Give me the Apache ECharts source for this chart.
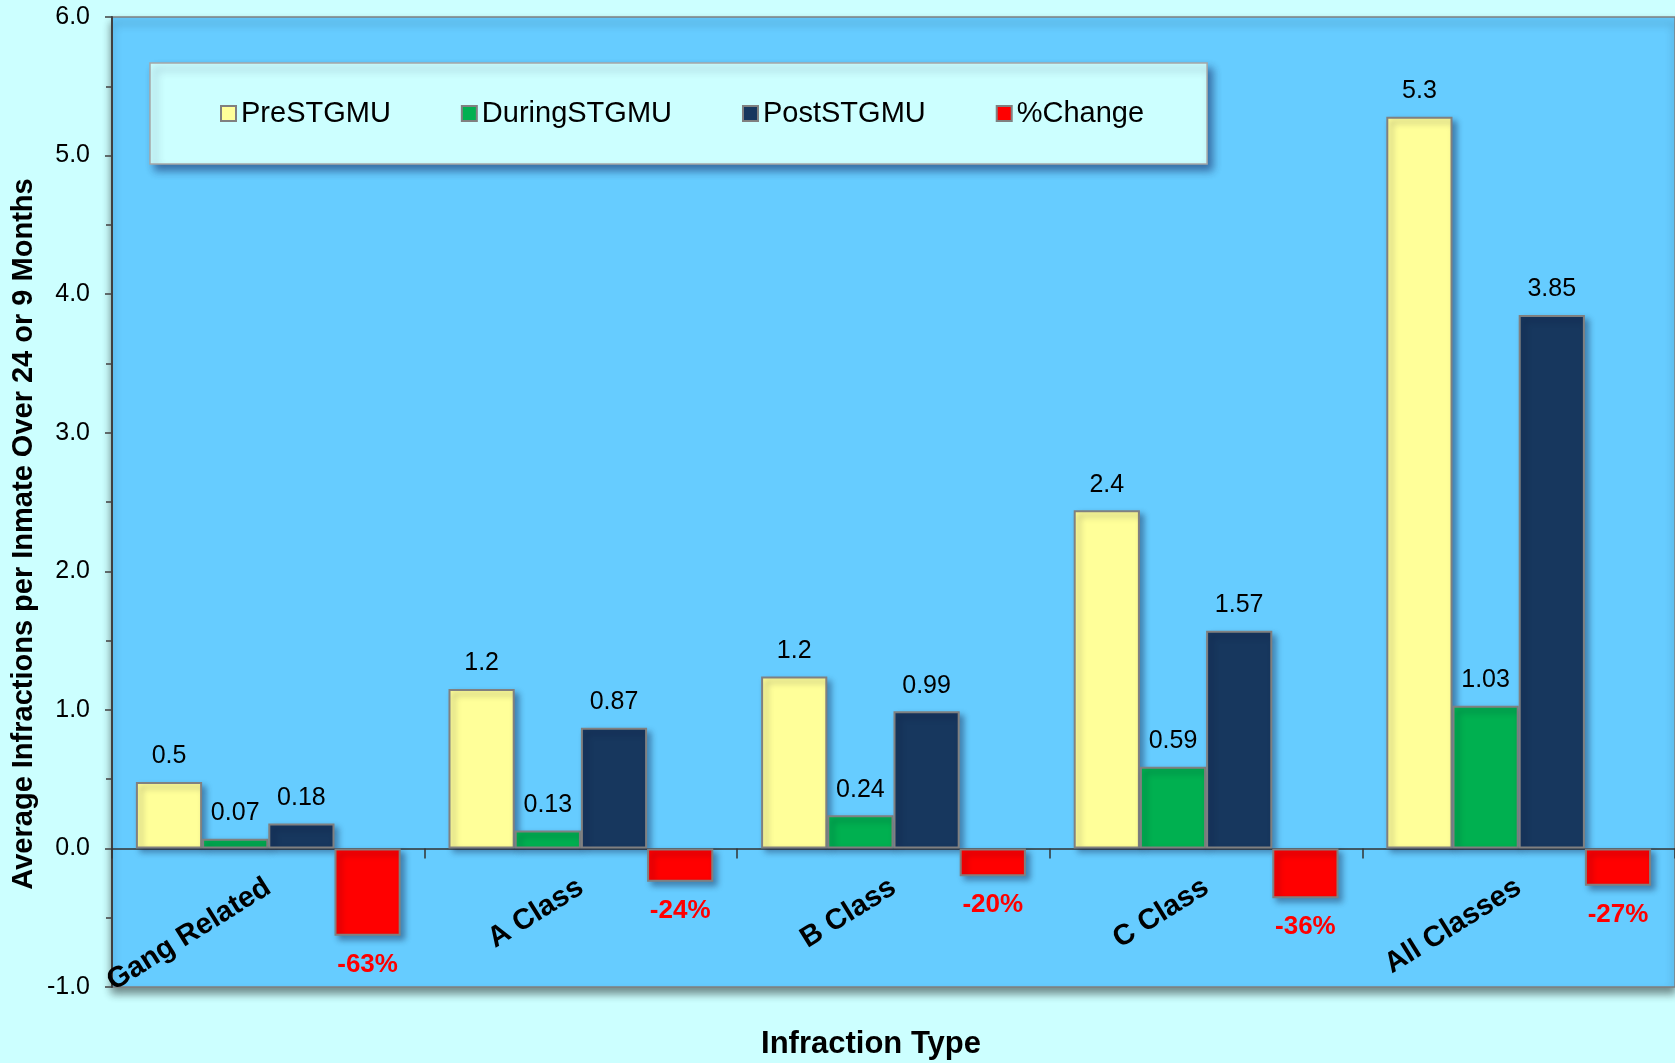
<!DOCTYPE html>
<html>
<head>
<meta charset="utf-8">
<script src="https://cdn.jsdelivr.net/npm/echarts@6/dist/echarts.min.js"></script>
<style>
html,body{margin:0;padding:0;background:#ccffff;}
#c{width:1675px;height:1063px;}
</style>
</head>
<body>
<div id="c"></div>
<script>
const categories = ['Gang Related', 'A Class', 'B Class', 'C Class', 'All Classes'];
const seriesNames = ['PreSTGMU', 'DuringSTGMU', 'PostSTGMU', '%Change'];
const preValues = [0.48, 1.15, 1.24, 2.44, 5.28];
const preLabels = ['0.5', '1.2', '1.2', '2.4', '5.3'];
const duringValues = [0.07, 0.13, 0.24, 0.59, 1.03];
const postValues = [0.18, 0.87, 0.99, 1.57, 3.85];
const pctChange = [-63, -24, -20, -36, -27];
const yTicks = [-1, 0, 1, 2, 3, 4, 5, 6];

const FONT = '"Liberation Sans", Arial, sans-serif';
const chart = echarts.init(document.getElementById('c'), null, {renderer: 'canvas'});

const barBase = {
  type: 'bar',
  barGap: '0%',
  barCategoryGap: '15.3%',
  itemStyle: {
    borderColor: '#808080',
    borderWidth: 2,
    shadowColor: 'rgba(0,0,40,0.35)',
    shadowBlur: 6,
    shadowOffsetX: 4,
    shadowOffsetY: 4
  }
};
const topLabel = {
  show: true,
  position: 'top',
  distance: 13,
  fontFamily: FONT,
  fontSize: 25,
  color: '#000'
};

const option = {
  backgroundColor: '#ccffff',
  animation: false,
  grid: {
    left: 112, right: 0, top: 17, bottom: 76,
    containLabel: false,
    outerBoundsMode: 'none',
    show: true,
    backgroundColor: '#66ccff',
    borderColor: '#7f7f7f',
    borderWidth: 1.5,
    shadowColor: 'rgba(0,0,0,0.45)',
    shadowBlur: 8,
    shadowOffsetX: 0,
    shadowOffsetY: 6
  },
  legend: {
    left: 150, top: 63,
    orient: 'horizontal',
    data: seriesNames,
    icon: 'rect',
    itemWidth: 15, itemHeight: 15,
    itemGap: 70,
    padding: [36, 63, 36, 70],
    backgroundColor: '#ccffff',
    borderColor: '#a6a6a6',
    borderWidth: 1.5,
    shadowColor: 'rgba(0,0,60,0.45)',
    shadowBlur: 8,
    shadowOffsetX: 5,
    shadowOffsetY: 6,
    textStyle: {fontFamily: FONT, fontSize: 29, color: '#000'}
  },
  xAxis: {
    type: 'category',
    data: categories,
    axisLine: {onZero: true, lineStyle: {color: '#333', width: 1.5}},
    axisTick: {show: true, length: 10, lineStyle: {color: '#333', width: 1.5}},
    axisLabel: {
      rotate: 32,
      margin: -102,
      interval: 0,
      fontFamily: FONT,
      fontSize: 29,
      fontWeight: 'bold',
      color: '#000'
    },
    splitLine: {show: false}
  },
  yAxis: {
    type: 'value',
    min: yTicks[0], max: yTicks[yTicks.length - 1], interval: 1,
    axisLine: {show: true, lineStyle: {color: '#404040', width: 2}},
    axisTick: {show: true, length: 7, lineStyle: {color: '#404040', width: 1.5}},
    minorTick: {show: true, splitNumber: 2, length: 6, lineStyle: {color: '#404040', width: 1.5}},
    axisLabel: {
      margin: 22,
      fontFamily: FONT,
      fontSize: 25,
      color: '#000',
      formatter: v => v.toFixed(1)
    },
    splitLine: {show: false}
  },
  series: [
    Object.assign({}, barBase, {
      name: seriesNames[0],
      data: preValues,
      itemStyle: Object.assign({}, barBase.itemStyle, {color: '#ffff99'}),
      label: Object.assign({}, topLabel, {formatter: p => preLabels[p.dataIndex]})
    }),
    Object.assign({}, barBase, {
      name: seriesNames[1],
      data: duringValues,
      itemStyle: Object.assign({}, barBase.itemStyle, {color: '#00b050'}),
      label: Object.assign({}, topLabel, {formatter: p => String(duringValues[p.dataIndex])})
    }),
    Object.assign({}, barBase, {
      name: seriesNames[2],
      data: postValues,
      itemStyle: Object.assign({}, barBase.itemStyle, {color: '#17375e'}),
      label: Object.assign({}, topLabel, {formatter: p => String(postValues[p.dataIndex])})
    }),
    Object.assign({}, barBase, {
      name: seriesNames[3],
      data: pctChange.map(v => v / 100),
      itemStyle: Object.assign({}, barBase.itemStyle, {color: '#ff0000'}),
      label: {
        show: true,
        position: 'bottom',
        distance: 16,
        fontFamily: FONT,
        fontSize: 26,
        fontWeight: 'bold',
        color: '#ff0000',
        formatter: p => pctChange[p.dataIndex] + '%'
      }
    })
  ],
  graphic: [
    {
      type: 'text',
      x: 24, y: 534,
      rotation: Math.PI / 2,
      style: {
        text: 'Average Infractions per Inmate Over 24 or 9 Months',
        fontFamily: FONT,
        fontSize: 29,
        fontWeight: 'bold',
        fill: '#000',
        textAlign: 'center',
        textVerticalAlign: 'middle'
      }
    },
    {
      type: 'text',
      x: 871, y: 1044,
      style: {
        text: 'Infraction Type',
        fontFamily: FONT,
        fontSize: 31,
        fontWeight: 'bold',
        fill: '#000',
        textAlign: 'center',
        textVerticalAlign: 'middle'
      }
    }
  ]
};
chart.setOption(option);
</script>
</body>
</html>
